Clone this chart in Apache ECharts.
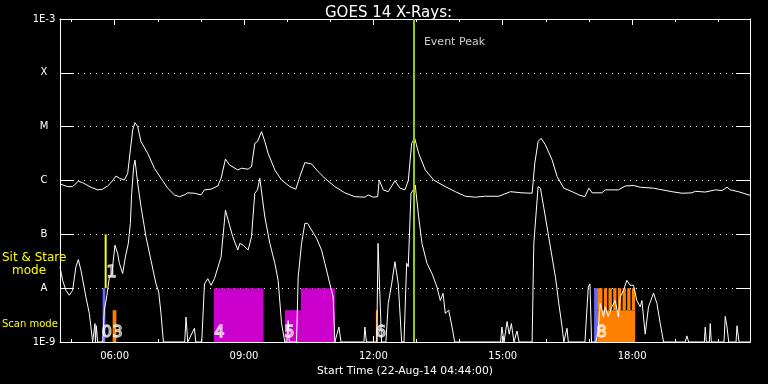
<!DOCTYPE html>
<html><head><meta charset="utf-8">
<script src="https://cdn.jsdelivr.net/npm/echarts@6/dist/echarts.min.js"></script>
<style>html,body{margin:0;padding:0;background:#000}#c{width:768px;height:384px}</style>
</head><body><div id="c"></div>
<script>
const chartTitle = 'GOES 14 X-Rays:';
const xAxisTitle = 'Start Time (22-Aug-14 04:44:00)';
const startHour = 4 + 44 / 60;
const endHour = startHour + 16;
const majorTickHours = [6, 9, 12, 15, 18];
const minorTickHours = [5, 6, 7, 8, 9, 10, 11, 12, 13, 14, 15, 16, 17, 18, 19, 20];
const yLevelExps = [-9, -8, -7, -6, -5, -4, -3];
const yLevelLabels = ['1E-9', 'A', 'B', 'C', 'M', 'X', '1E-3'];
const eventPeakHour = 12.94;
const eventPeakText = 'Event Peak';
const sideLabels = ['Sit & Stare', 'mode', 'Scan mode'];

// [hour of day, flux W/m^2]
const upperCurve = [[4.733,8.6e-7],[4.910,7.7e-7],[5.026,7.7e-7],[5.158,9.7e-7],[5.258,9.1e-7],[5.451,7.5e-7],[5.606,6.7e-7],[5.722,6.9e-7],[5.838,7.9e-7],[5.915,9.1e-7],[6.031,1.21e-6],[6.110,1.1e-6],[6.226,1.02e-6],[6.303,1.36e-6],[6.365,3.7e-6],[6.419,8.7e-6],[6.472,1.19e-5],[6.535,1.0e-5],[6.611,5.3e-6],[6.767,3.2e-6],[6.922,1.69e-6],[7.076,1.1e-6],[7.231,7.2e-7],[7.387,5.4e-7],[7.503,5.0e-7],[7.619,5.4e-7],[7.695,5.9e-7],[7.851,5.8e-7],[8.004,5.4e-7],[8.083,6.7e-7],[8.236,6.9e-7],[8.392,7.9e-7],[8.468,1.1e-6],[8.570,2.5e-6],[8.663,1.95e-6],[8.856,1.57e-6],[8.942,1.69e-6],[9.095,1.62e-6],[9.174,1.81e-6],[9.250,4.9e-6],[9.313,5.3e-6],[9.406,8.1e-6],[9.483,5.3e-6],[9.559,3.2e-6],[9.715,1.57e-6],[9.870,1.02e-6],[10.063,7.7e-7],[10.202,6.9e-7],[10.295,1.18e-6],[10.411,2.15e-6],[10.566,2.03e-6],[10.720,1.46e-6],[10.875,1.1e-6],[11.107,7.7e-7],[11.339,5.9e-7],[11.571,5.0e-7],[11.803,4.9e-7],[11.880,5.4e-7],[11.996,4.9e-7],[12.099,5.0e-7],[12.136,1.02e-6],[12.229,6.7e-7],[12.345,6.2e-7],[12.500,9.9e-7],[12.616,7.2e-7],[12.732,6.7e-7],[12.809,9.9e-7],[12.888,4.9e-6],[12.958,6.1e-6],[13.050,3.2e-6],[13.204,1.57e-6],[13.399,1.02e-6],[13.668,7.7e-7],[13.900,6.2e-7],[14.132,5.1e-7],[14.365,4.9e-7],[14.597,5.1e-7],[14.908,5.1e-7],[15.177,6.2e-7],[15.448,5.9e-7],[15.681,5.8e-7],[15.743,2.1e-6],[15.820,5.3e-6],[15.890,6.1e-6],[15.989,4.6e-6],[16.145,2.4e-6],[16.261,1.18e-6],[16.416,7.2e-7],[16.609,6.2e-7],[16.765,5.4e-7],[16.904,5.0e-7],[16.997,7.2e-7],[17.073,5.9e-7],[17.298,5.9e-7],[17.375,6.7e-7],[17.684,6.7e-7],[17.839,7.9e-7],[18.032,8.1e-7],[18.188,7.5e-7],[18.496,7.2e-7],[18.612,6.9e-7],[18.923,6.2e-7],[19.155,5.8e-7],[19.388,5.9e-7],[19.464,6.3e-7],[19.696,6.1e-7],[19.928,6.7e-7],[20.084,6.5e-7],[20.200,7.5e-7],[20.277,6.7e-7],[20.466,6.2e-7],[20.733,5.3e-7]];

const lowerCurve = [[4.733,2.5e-8],[4.794,1.4e-8],[4.870,9.1e-9],[4.949,7.4e-9],[5.026,9.1e-9],[5.102,2.5e-8],[5.158,3.4e-8],[5.219,2.15e-8],[5.335,6.8e-9],[5.413,3.4e-9],[5.451,1.9e-9],[5.490,1e-9],[5.535,1e-9],[5.545,2.2e-9],[5.555,1e-9],[5.576,2.0e-9],[5.606,1e-9],[5.722,1e-9],[5.761,3.9e-9],[5.822,7.4e-9],[5.878,1.6e-8],[5.931,1.7e-8],[6.008,6.3e-8],[6.070,4.4e-8],[6.110,2.9e-8],[6.186,1.87e-8],[6.249,3.8e-8],[6.318,6.8e-8],[6.365,1.6e-7],[6.395,5.8e-7],[6.442,1.8e-6],[6.472,2.4e-6],[6.535,8.9e-7],[6.611,3.3e-7],[6.727,9.0e-8],[6.843,3.3e-8],[6.959,1.2e-8],[7.022,8.5e-9],[7.075,3.4e-9],[7.131,1e-9],[7.626,1e-9],[7.656,2.9e-9],[7.695,1e-9],[7.851,1.8e-9],[7.881,1e-9],[8.020,1e-9],[8.083,1.2e-8],[8.160,1.5e-8],[8.236,1.13e-8],[8.315,1.5e-8],[8.468,3.8e-8],[8.570,2.8e-7],[8.663,1.5e-7],[8.740,9.0e-8],[8.856,5.1e-8],[8.902,6.8e-8],[8.979,6.3e-8],[9.095,5.1e-8],[9.174,9.0e-8],[9.250,5.8e-7],[9.313,6.7e-7],[9.366,1.1e-6],[9.406,1.02e-6],[9.483,2.1e-7],[9.599,6.8e-8],[9.715,2.9e-8],[9.792,1.4e-8],[9.871,2.2e-9],[9.947,1e-9],[9.994,1e-9],[10.024,2.5e-9],[10.051,1e-9],[10.218,1e-9],[10.256,1.6e-8],[10.335,6.8e-8],[10.411,1.6e-7],[10.474,1.6e-7],[10.566,1.2e-7],[10.683,8.4e-8],[10.799,5.1e-8],[10.875,2.9e-8],[10.991,1.2e-8],[11.068,6.8e-9],[11.107,1e-9],[11.200,1.9e-9],[11.250,1e-9],[11.781,1e-9],[11.803,1.9e-9],[11.838,1e-9],[12.078,1e-9],[12.108,6.8e-8],[12.190,1e-9],[12.290,1e-9],[12.345,5.2e-9],[12.424,1.2e-8],[12.500,3.1e-8],[12.577,1.2e-8],[12.656,1e-9],[12.710,1e-9],[12.772,2.9e-8],[12.809,2.5e-8],[12.872,5.8e-7],[12.926,6.7e-7],[12.971,8.2e-7],[13.050,2.1e-7],[13.127,6.8e-8],[13.243,2.9e-8],[13.359,1.87e-8],[13.475,1.05e-8],[13.552,5.9e-9],[13.615,8e-9],[13.668,3.4e-9],[13.747,3.9e-9],[13.824,1.9e-9],[13.886,1e-9],[14.950,1e-9],[14.980,1.9e-9],[15.030,1e-9],[15.100,2.4e-9],[15.150,1.4e-9],[15.200,2.2e-9],[15.260,1e-9],[15.330,1.6e-9],[15.380,1e-9],[15.681,1e-9],[15.720,6.8e-8],[15.820,7.7e-7],[15.874,7.2e-7],[15.989,2.1e-7],[16.105,5.8e-8],[16.222,1.6e-8],[16.300,5.2e-9],[16.376,1.9e-9],[16.416,1e-9],[16.490,1.8e-9],[16.520,1e-9],[16.906,1e-9],[16.983,1.05e-8],[17.022,1.2e-8],[17.060,1e-9],[17.160,1e-9],[17.210,1.6e-9],[17.260,5.2e-9],[17.336,2.9e-9],[17.375,4.5e-9],[17.445,3.0e-9],[17.530,4.5e-9],[17.607,5.9e-9],[17.684,2.9e-9],[17.723,6.8e-9],[17.800,9.1e-9],[17.877,1.4e-8],[17.954,1.13e-8],[18.032,1.13e-8],[18.109,5.9e-9],[18.188,4.5e-9],[18.227,5.9e-9],[18.303,1.4e-9],[18.380,4.5e-9],[18.496,8.1e-9],[18.575,5.2e-9],[18.652,2.2e-9],[18.729,1e-9],[19.230,1e-9],[19.270,1.3e-9],[19.310,1e-9],[19.674,1e-9],[19.696,1.9e-9],[19.720,1e-9],[19.790,1e-9],[19.812,2.2e-9],[19.835,1e-9],[20.130,1e-9],[20.160,3.0e-9],[20.200,1.9e-9],[20.240,1e-9],[20.410,1e-9],[20.432,2.0e-9],[20.480,1e-9],[20.733,1e-9]];

// [start hour, end hour, low flux, high flux]
const sitStareBoxes = [[5.769,5.815,1e-8,1e-7]];
const blueBoxes = [[5.722,5.785,1e-9,1e-8],[17.119,17.189,1e-9,1e-8]];
const orangeBoxes = [[5.954,6.040,1e-9,3.9e-9],[12.058,12.105,1e-9,3.9e-9],[17.189,18.071,1e-9,3.9e-9],
  [17.189,17.312,3.9e-9,1e-8],[17.345,17.421,3.9e-9,1e-8],[17.452,17.530,3.9e-9,1e-8],[17.561,17.637,3.9e-9,1e-8],
  [17.670,17.746,3.9e-9,1e-8],[17.777,17.855,3.9e-9,1e-8],[17.886,17.962,3.9e-9,1e-8],[17.994,18.071,3.9e-9,1e-8]];
const magentaBoxes = [[8.299,9.452,1e-9,1e-8],[9.947,10.318,1e-9,3.9e-9],[10.318,11.107,1e-9,1e-8]];
// [text, hour, flux]
const modeLabels = [['1',5.93,1.9e-8],['0',5.817,1.45e-9],['3',6.07,1.45e-9],['4',8.426,1.45e-9],['5',10.05,1.5e-9],['6',12.175,1.45e-9],['8',17.29,1.45e-9]];

const FONT = 'DejaVu Sans';
const chart = echarts.init(document.getElementById('c'), null, {renderer: 'canvas'});

function boxSeries(boxes, color) {
  return {
    type: 'custom', z: 1, silent: true, clip: true,
    data: boxes.map(b => [b[0], b[1], Math.log10(b[2]), Math.log10(b[3])]),
    encode: {x: [0, 1], y: [2, 3]},
    renderItem: (params, api) => {
      const p0 = api.coord([api.value(0), api.value(3)]);
      const p1 = api.coord([api.value(1), api.value(2)]);
      return {type: 'rect', shape: {x: p0[0], y: p0[1], width: p1[0] - p0[0], height: p1[1] - p0[1]}, style: {fill: color}};
    }
  };
}
function lineSeries(data) {
  return {type: 'line', z: 3, silent: true, showSymbol: false, symbol: 'none',
    data: data.map(d => [d[0], Math.log10(d[1])]),
    lineStyle: {color: '#ffffff', width: 1}};
}
const xBase = {type: 'value', min: startHour, max: endHour, gridIndex: 0, splitLine: {show: false}};
const levelMap = {};
yLevelExps.forEach((e, i) => levelMap[e] = yLevelLabels[i]);

chart.setOption({
  backgroundColor: '#000000',
  animation: false,
  title: {text: chartTitle, left: 320, top: 1, textStyle: {color: '#fff', fontSize: 15, fontWeight: 'normal', fontFamily: FONT}},
  grid: {left: 60, right: 18, top: 19, bottom: 42, containLabel: false},
  xAxis: [
    Object.assign({}, xBase, {position: 'bottom',
      axisLine: {lineStyle: {color: '#fff', width: 1}},
      axisTick: {inside: true, length: 6, customValues: majorTickHours, lineStyle: {color: '#fff'}},
      axisLabel: {customValues: majorTickHours, color: '#fff', fontSize: 10, fontFamily: FONT, margin: 9,
        formatter: v => String(Math.round(v)).padStart(2, '0') + ':00'},
      name: xAxisTitle, nameLocation: 'middle', nameGap: 23,
      nameTextStyle: {color: '#fff', fontSize: 10.8, fontFamily: FONT}}),
    Object.assign({}, xBase, {position: 'bottom',
      axisLine: {show: false}, axisLabel: {show: false},
      axisTick: {inside: true, length: 3, customValues: minorTickHours, lineStyle: {color: '#fff'}}}),
    Object.assign({}, xBase, {position: 'top',
      axisLine: {lineStyle: {color: '#fff', width: 1}}, axisLabel: {show: false},
      axisTick: {inside: true, length: 6, customValues: majorTickHours, lineStyle: {color: '#fff'}}}),
    Object.assign({}, xBase, {position: 'top',
      axisLine: {show: false}, axisLabel: {show: false},
      axisTick: {inside: true, length: 3, customValues: minorTickHours, lineStyle: {color: '#fff'}}})
  ],
  yAxis: [
    {type: 'value', min: -9, max: -3, interval: 1, position: 'left',
      axisLine: {show: true, lineStyle: {color: '#fff', width: 1}},
      axisTick: {show: true, inside: true, length: 14, lineStyle: {color: '#fff'}},
      axisLabel: {color: '#fff', fontSize: 10, fontFamily: FONT, margin: 16, align: 'center',
        formatter: v => levelMap[Math.round(v)] || ''},
      splitLine: {show: true, lineStyle: {color: '#fff', width: 1, type: [1, 5]}}},
    {type: 'value', min: -9, max: -3, interval: 1, position: 'right',
      axisLine: {show: true, lineStyle: {color: '#fff', width: 1}},
      axisTick: {show: true, inside: true, length: 14, lineStyle: {color: '#fff'}},
      axisLabel: {show: false}, splitLine: {show: false}}
  ],
  graphic: [
    {type: 'text', z: 100, style: {text: sideLabels[0], x: 2, y: 258, fill: '#ffff00', font: '12px ' + FONT, verticalAlign: 'middle'}},
    {type: 'text', z: 100, style: {text: sideLabels[1], x: 12, y: 271, fill: '#ffff00', font: '12px ' + FONT, verticalAlign: 'middle'}},
    {type: 'text', z: 100, style: {text: sideLabels[2], x: 2, y: 324, fill: '#ffff00', font: '10px ' + FONT, verticalAlign: 'middle'}}
  ],
  series: [
    boxSeries(magentaBoxes, '#cc00cc'),
    boxSeries(orangeBoxes, '#ff8000'),
    boxSeries(blueBoxes, '#6868ff'),
    boxSeries(sitStareBoxes, '#ffff00'),
    lineSeries(upperCurve),
    lineSeries(lowerCurve),
    {type: 'scatter', z: 6, silent: true, symbolSize: 0,
      data: [[eventPeakHour, -3.437]],
      label: {show: true, position: 'right', distance: 10, formatter: eventPeakText, color: '#fff', fontSize: 11, fontFamily: FONT},
      markLine: {silent: true, symbol: ['none', 'none'], label: {show: false},
        lineStyle: {color: '#99cc00', width: 2, type: 'solid'}, data: [{xAxis: eventPeakHour}]}},
    {type: 'scatter', z: 7, silent: true, symbolSize: 0,
      data: modeLabels.map(m => [m[1], Math.log10(m[2]), m[0]]),
      label: {show: true, position: 'inside', formatter: p => p.value[2], fontSize: 16, fontFamily: FONT,
        color: 'rgba(0,0,0,0)', textBorderColor: '#ffffff', textBorderWidth: 1.3}}
  ]
});
</script></body></html>
